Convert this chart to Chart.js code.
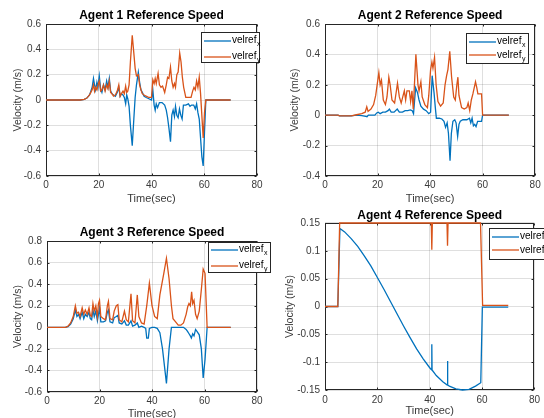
<!DOCTYPE html>
<html><head><meta charset="utf-8">
<script src="https://cdn.jsdelivr.net/npm/chart.js@4.4.0/dist/chart.umd.min.js"></script>
<style>
html,body{margin:0;padding:0;background:#fff;overflow:hidden;width:544px;height:418px;}
canvas{position:absolute;}
</style></head><body>
<canvas id="c1" width="272" height="209" style="left:0;top:0"></canvas>
<canvas id="c2" width="272" height="209" style="left:272px;top:0"></canvas>
<canvas id="c3" width="272" height="216" style="left:0;top:209px"></canvas>
<canvas id="c4" width="272" height="209" style="left:272px;top:209px"></canvas>
<script>
// ---------- data (time sec, velocity m/s) ----------
const xTicks = [0, 20, 40, 60, 80];
const yTicks1 = [-0.6, -0.4, -0.2, 0, 0.2, 0.4, 0.6];
const yTicks2 = [-0.4, -0.2, 0, 0.2, 0.4, 0.6];
const yTicks3 = [-0.6, -0.4, -0.2, 0, 0.2, 0.4, 0.6, 0.8];
const yTicks4 = [-0.15, -0.1, -0.05, 0, 0.05, 0.1, 0.15];
const seriesLabels = ['velref_x', 'velref_y'];
const titles = ['Agent 1 Reference Speed', 'Agent 2 Reference Speed', 'Agent 3 Reference Speed', 'Agent 4 Reference Speed'];

const agent1X = [[0,0],[13,0],[14.5,0.005],[15.5,0.015],[16.5,0.04],[17,0.07],[17.5,0.1],[18,0.17],[18.4,0.12],[18.8,0.08],[19.3,0.14],[19.7,0.1],[20.2,0.19],[20.7,0.09],[21.2,0.06],[21.8,0.12],[22.4,0.08],[23,0.15],[23.5,0.1],[24,0.17],[24.5,0.07],[25,0.05],[25.6,0.04],[26.3,0.03],[27,0.06],[27.6,0.1],[28.1,0.03],[28.6,0.05],[29.2,0.04],[29.7,0.02],[30.2,-0.03],[30.6,0.04],[31,0.01],[31.5,-0.05],[32,-0.2],[32.7,-0.36],[33.3,-0.15],[33.8,0.02],[34.3,0.12],[35,0.22],[35.5,0.14],[36,0.08],[36.5,0.06],[37.2,0.03],[38,0.02],[39,0.01],[40,0],[40.5,0.08],[41,-0.04],[41.4,-0.08],[41.8,-0.03],[42.3,-0.06],[43,-0.02],[44,-0.02],[45,-0.04],[45.6,-0.08],[46.1,-0.14],[46.6,-0.22],[47.2,-0.33],[47.7,-0.12],[48.2,-0.08],[48.7,-0.13],[49.1,-0.05],[49.6,-0.12],[50.1,-0.14],[50.6,-0.07],[51.1,-0.12],[51.6,-0.15],[52.1,-0.04],[53,-0.04],[54,-0.03],[54.6,-0.05],[55.2,-0.04],[56,-0.04],[56.6,-0.07],[57.1,-0.03],[57.6,-0.1],[58.1,-0.15],[58.6,-0.3],[59.1,-0.45],[59.6,-0.52],[60.1,-0.25],[60.6,0],[70,0]];
const agent1Y = [[0,0],[13,0],[14.5,0.005],[15.5,0.015],[16.5,0.04],[17,0.06],[17.5,0.08],[18,0.12],[18.4,0.07],[18.8,0.1],[19.3,0.08],[19.7,0.12],[20.2,0.15],[20.7,0.07],[21.2,0.08],[21.8,0.12],[22.4,0.07],[23,0.12],[23.5,0.09],[24,0.15],[24.5,0.06],[25,0.05],[25.6,0.03],[26.3,0.04],[27,0.07],[27.6,0.12],[28.1,0.03],[28.6,0.05],[29.2,0.07],[29.7,0.05],[30.2,0.11],[30.6,0.06],[31,0.07],[31.5,0.12],[32,0.3],[32.7,0.51],[33.3,0.37],[33.8,0.25],[34.3,0.19],[35,0.2],[35.5,0.12],[36,0.08],[36.5,0.05],[37.2,0.04],[38,0.03],[39,0.02],[40,0.02],[40.5,0.16],[41,0.13],[41.4,0.17],[41.8,0.13],[42.5,0.21],[43,0.12],[43.6,0.1],[44.2,0.11],[45,0.06],[45.6,0.12],[46.1,0.18],[46.6,0.17],[47.2,0.26],[47.7,0.15],[48.2,0.1],[48.7,0.13],[49.1,0.1],[49.6,0.2],[50.1,0.22],[50.7,0.37],[51.2,0.3],[51.7,0.18],[52.2,0.1],[53,0.02],[54,0.02],[55,0.02],[55.6,0.07],[56.1,0.1],[56.6,0.08],[57.1,0.15],[57.6,0.1],[58.1,0.18],[58.6,0.05],[59.6,-0.3],[60.1,-0.1],[60.6,0],[70,0]];

const agent2X = [[0,0],[5,0],[5.5,-0.005],[10,-0.005],[12,0],[14,-0.003],[15.5,-0.008],[16,-0.01],[16.5,0],[19,0],[19.7,0.015],[20.3,0.02],[21,0.01],[22,0.02],[23,0.02],[24,0.03],[24.5,0.04],[25.2,0.02],[26.3,0.02],[27.5,0.04],[28.3,0.02],[29.5,0.02],[30.5,0.03],[31.5,0.03],[32.5,0.035],[33.2,0.03],[33.7,0.01],[34.5,0.18],[35.2,0.15],[35.8,0.1],[36.5,0.06],[37.5,0.04],[38.5,0.03],[39.5,0.01],[40.2,0.02],[40.8,0.26],[41.5,0.15],[42,0.05],[42.4,-0.02],[43.5,-0.02],[44.5,-0.025],[45.3,-0.04],[45.9,-0.08],[46.5,-0.05],[47,-0.12],[47.6,-0.3],[48.1,-0.12],[48.7,-0.04],[49.4,-0.03],[49.9,-0.05],[50.5,-0.14],[51,-0.06],[51.5,-0.04],[52.5,-0.03],[54,-0.03],[55,-0.02],[55.5,-0.05],[56,-0.02],[56.5,-0.07],[57,-0.06],[57.5,-0.075],[58.1,-0.04],[59.6,-0.04],[60,0],[70,0]];
const agent2Y = [[0,0],[5,0],[5.5,-0.005],[10,-0.005],[12,0.003],[14,0.01],[15.3,0.02],[15.9,0.055],[16.4,0.025],[17.5,0.04],[18.5,0.07],[19.3,0.13],[20.5,0.28],[21,0.2],[21.5,0.23],[22.2,0.1],[23,0.07],[23.6,0.12],[24.3,0.25],[24.8,0.2],[25.5,0.1],[26.5,0.08],[27.6,0.21],[28.3,0.12],[29,0.08],[29.6,0.12],[30.2,0.16],[30.7,0.1],[31.2,0.16],[32.1,0.16],[32.6,0.09],[33.1,0.16],[33.6,0.04],[34.6,0.4],[35.4,0.2],[35.8,0.16],[36.5,0.22],[37,0.12],[38,0.07],[39,0.05],[39.5,0.13],[40.2,0.3],[40.7,0.35],[41.1,0.31],[41.7,0.38],[42.3,0.2],[43,0.09],[44,0.06],[45,0.08],[45.7,0.2],[46.3,0.26],[46.8,0.3],[47.5,0.42],[48.2,0.25],[49,0.12],[49.6,0.1],[50.2,0.2],[50.6,0.25],[51,0.13],[52,0.05],[53,0.04],[54,0.05],[54.5,0.08],[55.1,0.03],[55.7,0.1],[56.3,0.14],[57.3,0.22],[57.8,0.18],[58.2,0.14],[59.6,0.14],[60,0],[70,0]];

const agent3X = [[0,0],[7,0],[8,0.005],[9,0.03],[10,0.08],[10.8,0.16],[11.4,0.1],[12,0.12],[12.6,0.08],[13.4,0.14],[14,0.08],[14.6,0.12],[15.3,0.1],[16,0.14],[16.5,0.08],[17,0.07],[17.5,0.16],[18,0.1],[18.6,0.15],[19.2,0.06],[19.6,0.12],[20,0.18],[20.5,0.05],[21.5,0.05],[22.3,0.06],[23,0.14],[23.4,0.16],[24,0.05],[25,0.04],[25.6,0.09],[26.4,0.1],[27,0.11],[27.5,0.04],[28.5,0.03],[29.5,0.06],[30.2,0.02],[31,0.02],[32,0.06],[32.6,0.01],[33.5,0.02],[34.4,0.04],[35,0],[36,0.01],[37,0],[37.6,-0.01],[38,-0.1],[38.6,-0.1],[39,-0.01],[40,0],[41,0],[42,-0.01],[43,-0.05],[44,-0.2],[45.5,-0.52],[46.5,-0.2],[47.4,0],[50,0],[52,0],[53,-0.02],[53.6,-0.04],[54.1,-0.06],[54.6,-0.08],[55,-0.1],[55.5,-0.06],[56,-0.08],[56.6,-0.02],[57.2,-0.04],[58,-0.07],[58.8,-0.2],[59.5,-0.47],[60.2,-0.3],[61,0],[70,0]];
const agent3Y = [[0,0],[7,0],[8,0.01],[9,0.04],[10,0.1],[10.8,0.2],[11.4,0.13],[12,0.14],[12.6,0.1],[13.4,0.18],[14,0.12],[14.6,0.16],[15.3,0.12],[16,0.18],[16.5,0.11],[17,0.1],[17.5,0.22],[18,0.15],[18.6,0.2],[19.2,0.1],[19.6,0.22],[20,0.25],[20.5,0.1],[21.5,0.08],[22.3,0.07],[23,0.2],[23.4,0.24],[24,0.08],[25,0.07],[25.6,0.15],[26.4,0.2],[27,0.21],[27.5,0.07],[28.5,0.05],[29.5,0.15],[30.2,0.07],[31,0.05],[32,0.31],[32.6,0.06],[33.5,0.04],[34.4,0.3],[35,0.1],[36,0.04],[37,0.03],[38,0.2],[39,0.41],[40,0.2],[41,0.1],[42,0.08],[43,0.3],[44.5,0.5],[45.5,0.64],[46.5,0.45],[47.4,0.2],[48,0.08],[49,0.05],[50,0.02],[51,0.02],[52,0.04],[53,0.12],[53.6,0.19],[54.1,0.22],[54.6,0.2],[55.1,0.33],[55.5,0.22],[56,0.25],[56.6,0.12],[57.2,0.08],[58,0.15],[58.8,0.35],[59.5,0.54],[60.2,0.5],[61,0],[70,0]];

const agent4X = [[0,0],[4.9,0],[5.7,0.14],[7.5,0.134],[10,0.122],[12.5,0.108],[15,0.091],[17.5,0.073],[20,0.052],[22.5,0.031],[25,0.009],[27.5,-0.013],[30,-0.035],[32.5,-0.056],[35,-0.076],[37.5,-0.094],[40,-0.11],[40.7,-0.114],[40.8,-0.068],[40.9,-0.114],[42.5,-0.124],[45,-0.135],[46.7,-0.141],[46.8,-0.098],[46.9,-0.141],[47.5,-0.143],[50,-0.148],[52.5,-0.15],[55,-0.149],[57.5,-0.143],[59.5,-0.137],[60.1,-0.001],[70,-0.001]];
const agent4Y = [[0,0],[4.9,0],[5.6,0.15],[40.6,0.15],[40.8,0.102],[41,0.15],[46.6,0.15],[46.8,0.109],[47,0.15],[59.4,0.15],[60.2,0.002],[70,0.002]];

// ---------- styling ----------
const BLUE = '#0072BD', ORANGE = '#D95319';
const AX = '#262626', TXT = '#3a3a3a', GRID = 'rgba(38,38,38,0.15)';
const FONT = '"Liberation Sans", Arial, sans-serif';

const matlabBox = {
  id: 'matlabBox',
  beforeDatasetsDraw(chart) {
    const {ctx, chartArea: a, scales: {x, y}} = chart;
    const L = Math.round(a.left) + 0.5, R = Math.round(a.right) - 0.5;
    const T = Math.round(a.top) + 0.5, B = Math.round(a.bottom) - 0.5;
    ctx.save();
    ctx.strokeStyle = AX; ctx.lineWidth = 1;
    ctx.strokeRect(L, T, R - L, B - T);
    ctx.beginPath();
    x.ticks.forEach(t => {
      const p = Math.round(x.getPixelForValue(t.value)) + 0.5;
      ctx.moveTo(p, B); ctx.lineTo(p, B - 2);
      ctx.moveTo(p, T); ctx.lineTo(p, T + 2);
    });
    y.ticks.forEach(t => {
      const p = Math.round(y.getPixelForValue(t.value)) + 0.5;
      ctx.moveTo(L, p); ctx.lineTo(L + 2, p);
      ctx.moveTo(R, p); ctx.lineTo(R - 2, p);
    });
    ctx.stroke();
    ctx.restore();
  }
};

const mlLegend = {
  id: 'mlLegend',
  afterDraw(chart, args, o) {
    const ctx = chart.ctx;
    ctx.save();
    ctx.fillStyle = '#fff';
    ctx.fillRect(o.x, o.y, o.w, o.h);
    ctx.strokeStyle = AX; ctx.lineWidth = 1;
    ctx.strokeRect(o.x + 0.5, o.y + 0.5, o.w - 1, o.h - 1);
    chart.data.datasets.forEach((ds, i) => {
      const cy = o.y + o.rows[i];
      ctx.strokeStyle = ds.borderColor; ctx.lineWidth = 1.3;
      ctx.beginPath();
      ctx.moveTo(o.x + 3, Math.round(cy)); ctx.lineTo(o.x + 30, Math.round(cy));
      ctx.stroke();
      const parts = ds.label.split('_');
      ctx.fillStyle = '#000';
      ctx.textBaseline = 'middle'; ctx.textAlign = 'left';
      ctx.font = '10px ' + FONT;
      ctx.fillText(parts[0], o.x + 31, cy);
      const w = ctx.measureText(parts[0]).width;
      if (parts[1]) {
        ctx.font = '7px ' + FONT;
        ctx.fillText(parts[1], o.x + 31 + w + 0.5, cy + 4);
      }
    });
    ctx.restore();
  }
};

function pts(arr) { return arr.map(p => ({x: p[0], y: p[1]})); }

function makeChart(id, cfg) {
  new Chart(document.getElementById(id), {
    type: 'line',
    data: {
      datasets: [
        {label: seriesLabels[0], data: pts(cfg.sx), borderColor: BLUE, order: 1},
        {label: seriesLabels[1], data: pts(cfg.sy), borderColor: ORANGE, order: 0}
      ]
    },
    options: {
      responsive: false, animation: false, events: [],
      layout: {autoPadding: false, padding: {left: 0, right: cfg.padR, top: cfg.padT || 0, bottom: 0}},
      elements: {point: {radius: 0}, line: {borderWidth: 1.3, tension: 0}},
      datasets: {line: {clip: {left: 1, right: 1, top: 2, bottom: 1}}},
      plugins: {
        legend: {display: false}, tooltip: {enabled: false},
        title: {display: true, text: cfg.title, fullSize: false, color: '#000',
          font: {family: FONT, size: 12, weight: 'bold', lineHeight: 1.15},
          padding: {top: cfg.tPadT, bottom: cfg.tPadB}},
        mlLegend: cfg.legend
      },
      scales: {
        x: {
          type: 'linear', min: 0, max: 80,
          afterBuildTicks: s => { s.ticks = xTicks.map(v => ({value: v})); },
          afterFit: s => { s.height = cfg.xH; },
          grid: {color: GRID, drawTicks: false, lineWidth: 1},
          border: {display: false},
          ticks: {color: TXT, padding: cfg.xTickPad, maxRotation: 0, font: {family: FONT, size: 10, lineHeight: 1.2}, callback: v => String(v)},
          title: {display: true, text: 'Time(sec)', color: TXT, font: {family: FONT, size: 11, lineHeight: 1.2}, padding: {top: 0, bottom: cfg.xTitlePad}}
        },
        y: {
          type: 'linear', min: cfg.yTicks[0], max: cfg.yTicks[cfg.yTicks.length - 1],
          afterBuildTicks: s => { s.ticks = cfg.yTicks.map(v => ({value: v})); },
          afterFit: s => { s.width = cfg.yW; },
          grid: {color: GRID, drawTicks: false, lineWidth: 1},
          border: {display: false},
          ticks: {color: TXT, padding: 5, font: {family: FONT, size: 10, lineHeight: 1.2}, callback: v => String(v)},
          title: {display: true, text: 'Velocity (m/s)', color: TXT, font: {family: FONT, size: 10.5, lineHeight: 1.2}, padding: {top: cfg.yTitlePad, bottom: 0}}
        }
      }
    },
    plugins: [matlabBox, mlLegend]
  });
}

makeChart('c1', {title: titles[0], sx: agent1X, sy: agent1Y, yTicks: yTicks1,
  padR: 15, tPadT: 9.1, tPadB: 1.1, xH: 33, yW: 46, xTickPad: 3.3, xTitlePad: 3.4, yTitlePad: 11.7,
  legend: {x: 201, y: 32, w: 59, h: 31, rows: [8.5, 24.5]}});
makeChart('c2', {title: titles[1], sx: agent2X, sy: agent2Y, yTicks: yTicks2,
  padR: 8, tPadT: 9.1, tPadB: 1.1, xH: 33, yW: 53, xTickPad: 3.3, xTitlePad: 3.4, yTitlePad: 16.7,
  legend: {x: 194, y: 33, w: 63, h: 31, rows: [8.5, 22]}});
makeChart('c3', {title: titles[2], sx: agent3X, sy: agent3Y, yTicks: yTicks3,
  padR: 15, tPadT: 16.4, tPadB: 1.8, xH: 33, yW: 47, xTickPad: 3.6, xTitlePad: 4.4, yTitlePad: 11.7,
  legend: {x: 208, y: 33, w: 63, h: 31, rows: [7.5, 23.5]}});
makeChart('c4', {title: titles[3], sx: agent4X, sy: agent4Y, yTicks: yTicks4,
  padR: 8, tPadT: 0, tPadB: 0.2, xH: 28, yW: 53, xTickPad: 4, xTitlePad: 0.4, yTitlePad: 11.7,
  legend: {x: 217, y: 19, w: 70, h: 32, rows: [8.7, 22.3]}});
</script>
</body></html>
